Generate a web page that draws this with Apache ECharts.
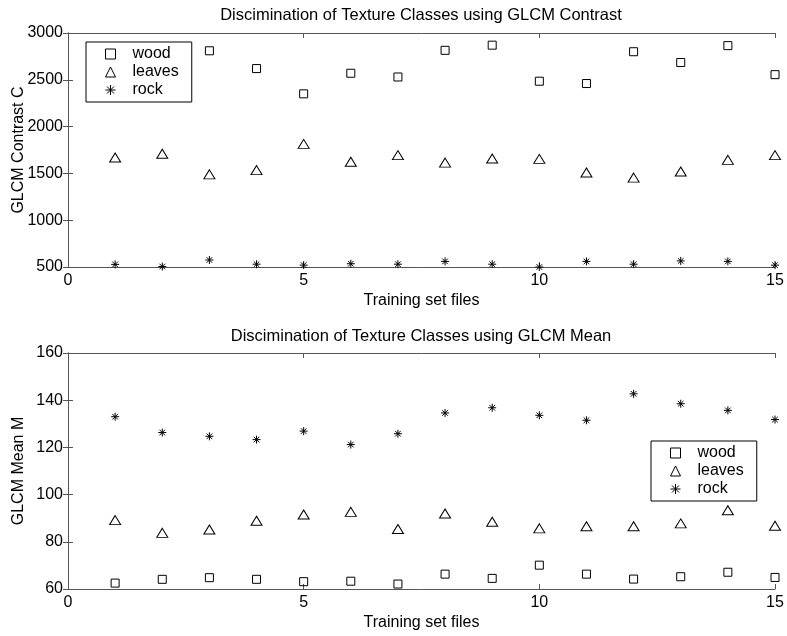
<!DOCTYPE html>
<html>
<head>
<meta charset="utf-8">
<script src="https://cdn.jsdelivr.net/npm/echarts@6/dist/echarts.min.js"></script>
<style>
  html, body { margin: 0; padding: 0; background: #fff; }
  #texture-chart { width: 787px; height: 636px; }
</style>
</head>
<body>
<div id="texture-chart"></div>
<script>
// training set file index (x axis)
const files = [1, 2, 3, 4, 5, 6, 7, 8, 9, 10, 11, 12, 13, 14, 15];
const classNames = ['wood', 'leaves', 'rock'];

// GLCM contrast C
const contrastWood = [2760, 2850, 2810, 2620, 2350, 2570, 2530, 2815, 2870, 2485, 2460, 2800, 2685, 2865, 2555];
const contrastLeaves = [1670, 1710, 1490, 1535, 1815, 1625, 1695, 1615, 1660, 1655, 1510, 1455, 1520, 1645, 1695];
const contrastRock = [528, 505, 575, 530, 520, 535, 530, 560, 530, 500, 560, 530, 565, 560, 520];

// GLCM mean M
const meanWood = [62.5, 64.1, 64.8, 64.1, 63.1, 63.3, 62.1, 66.3, 64.5, 70.1, 66.3, 64.2, 65.2, 67.1, 64.9];
const meanLeaves = [89.2, 83.8, 85.2, 88.9, 91.6, 92.7, 85.4, 92.0, 88.5, 85.7, 86.6, 86.6, 87.8, 93.4, 86.8];
const meanRock = [133.0, 126.3, 124.7, 123.3, 126.9, 121.2, 125.8, 134.6, 136.8, 133.6, 131.5, 142.7, 138.5, 135.7, 131.8];

const FONT = "'Liberation Sans', Arial, sans-serif";
const AXIS_COLOR = '#555';
const ASTERISK = 'path://M5,0L5,10M0,5L10,5M1.5,1.5L8.5,8.5M1.5,8.5L8.5,1.5';

function pairs(values) {
    return files.map(function (f, i) { return [f, values[i]]; });
}

function symbolOf(name) {
    if (name === 'leaves') return 'triangle';
    if (name === 'rock') return ASTERISK;
    return 'rect';
}

function markerSeries(name, values, idx) {
    let size = 8;
    if (name === 'leaves') size = [11, 9];
    return {
        name: name,
        type: 'scatter',
        xAxisIndex: idx * 2,
        yAxisIndex: idx * 2,
        data: pairs(values),
        symbol: symbolOf(name),
        symbolSize: size,
        clip: false,
        itemStyle: { color: 'rgba(0,0,0,0)', borderColor: '#000', borderWidth: 1, opacity: 1 },
        emphasis: { disabled: true }
    };
}

// bottom axis with labels + top axis with ticks only (matlab box)
function xAxes(idx) {
    return [{
        type: 'value', gridIndex: idx, position: 'bottom',
        min: 0, max: 15, interval: 5,
        name: 'Training set files', nameLocation: 'middle', nameGap: 26, nameMoveOverlap: false,
        nameTextStyle: { color: '#000', fontSize: 16, fontFamily: FONT },
        axisLine: { lineStyle: { color: AXIS_COLOR } },
        axisTick: { inside: true, length: 5, lineStyle: { color: AXIS_COLOR } },
        axisLabel: { color: '#000', fontSize: 16, fontFamily: FONT, margin: 6 },
        splitLine: { show: false }
    }, {
        type: 'value', gridIndex: idx, position: 'top',
        min: 0, max: 15, interval: 5,
        axisLine: { lineStyle: { color: AXIS_COLOR } },
        axisTick: { inside: true, length: 5, lineStyle: { color: AXIS_COLOR } },
        axisLabel: { show: false },
        splitLine: { show: false }
    }];
}

function yAxes(idx, min, max, step, title) {
    return [{
        type: 'value', gridIndex: idx, position: 'left',
        min: min, max: max, interval: step,
        name: title, nameLocation: 'middle', nameGap: 41, nameMoveOverlap: false,
        nameTextStyle: { color: '#000', fontSize: 16, fontFamily: FONT },
        axisLine: { show: true, lineStyle: { color: AXIS_COLOR } },
        axisTick: { show: true, inside: true, length: 5, lineStyle: { color: AXIS_COLOR } },
        axisLabel: { color: '#000', fontSize: 16, fontFamily: FONT, margin: 5, formatter: function (v) { return String(v); } },
        splitLine: { show: false }
    }, {
        type: 'value', gridIndex: idx, position: 'right',
        min: min, max: max, interval: step,
        axisLine: { show: true, lineStyle: { color: AXIS_COLOR } },
        axisTick: { show: true, inside: true, length: 5, lineStyle: { color: AXIS_COLOR } },
        axisLabel: { show: false },
        splitLine: { show: false }
    }];
}

function legendBox(left, top) {
    return {
        left: left, top: top,
        orient: 'vertical',
        data: classNames.map(function (n) { return { name: n, icon: symbolOf(n) }; }),
        backgroundColor: '#fff',
        borderColor: '#000',
        borderWidth: 1,
        borderRadius: 0,
        padding: [4, 13, 4, 19],
        itemGap: 2,
        itemWidth: 10,
        itemHeight: 10,
        selectedMode: false,
        itemStyle: { color: 'rgba(0,0,0,0)', borderColor: '#000', borderWidth: 1 },
        textStyle: { color: '#000', fontSize: 16, fontFamily: FONT, padding: [0, 0, 0, 12] }
    };
}

function titleText(text, y) {
    return {
        type: 'text', x: 421, y: y,
        style: { text: text, fill: '#000', font: '16.5px ' + FONT, textAlign: 'center', textVerticalAlign: 'middle' }
    };
}

let myChart = echarts.init(document.getElementById('texture-chart'), null, { renderer: 'canvas' });
let option = {
    backgroundColor: '#fff',
    animation: false,
    grid: [
        { left: 68, right: 12, top: 33, height: 234, outerBoundsMode: 'none' },
        { left: 68, right: 12, top: 353, height: 236, outerBoundsMode: 'none' }
    ],
    xAxis: xAxes(0).concat(xAxes(1)),
    yAxis: yAxes(0, 500, 3000, 500, 'GLCM Contrast C').concat(yAxes(1, 60, 160, 20, 'GLCM Mean M')),
    legend: [legendBox(86, 42), legendBox(651, 441)],
    graphic: [
        titleText('Discimination of Texture Classes using GLCM Contrast', 15),
        titleText('Discimination of Texture Classes using GLCM Mean', 336)
    ],
    series: [
        markerSeries('wood', contrastWood, 0),
        markerSeries('leaves', contrastLeaves, 0),
        markerSeries('rock', contrastRock, 0),
        markerSeries('wood', meanWood, 1),
        markerSeries('leaves', meanLeaves, 1),
        markerSeries('rock', meanRock, 1)
    ]
};
myChart.setOption(option);
</script>
</body>
</html>
